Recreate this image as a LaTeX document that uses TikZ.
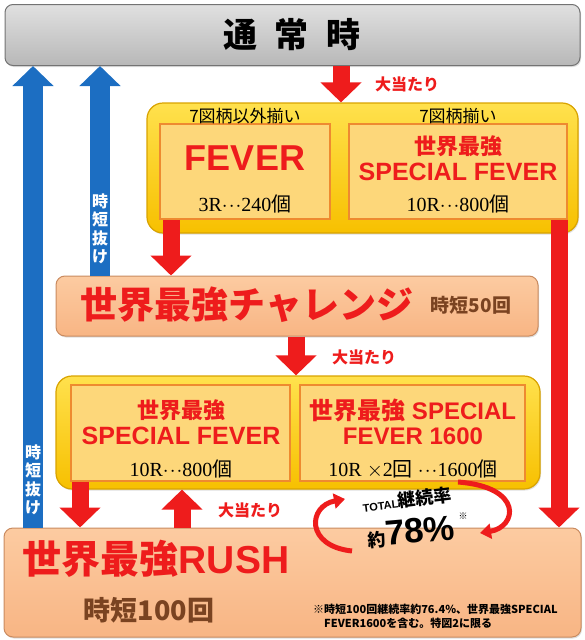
\documentclass[tikz,border=0pt]{standalone}
\usepackage{fontspec}
\setmainfont{Liberation Serif}
\newfontfamily\jp{Noto Sans CJK JP}
\newfontfamily\arl{Liberation Sans}
\usetikzlibrary{arrows.meta,shadows}
\definecolor{rd}{HTML}{EE1C1C}
\definecolor{bl}{HTML}{1C6EC2}
\definecolor{brn}{HTML}{7A4321}
\definecolor{ybd}{HTML}{D9A300}
\definecolor{ytop}{HTML}{FFE14D}
\definecolor{ybot}{HTML}{F7C000}
\definecolor{ibd}{HTML}{EE8A30}
\definecolor{ifill}{HTML}{FDD77A}
\definecolor{sbd}{HTML}{C98B60}
\definecolor{stop}{HTML}{FCCBA1}
\definecolor{sbot}{HTML}{F8B584}
\newcommand\latn[1]{{\arl\bfseries #1}}
\newcommand\fs[1]{\fontsize{#1}{#1}\selectfont}
\tikzset{
  shad/.style={drop shadow={opacity=0.25,shadow xshift=1pt,shadow yshift=-1.5pt}},
  graybox/.style={draw=black!55,line width=1pt,top color=black!12,bottom color=black!28,rounded corners=8pt,inner sep=0pt,shad},
  ybox/.style={draw=ybd,line width=1.2pt,top color=ytop,bottom color=ybot,rounded corners=16pt,inner sep=0pt,shad},
  ibox/.style={draw=ibd,line width=1.5pt,fill=ifill,inner sep=0pt},
  sbox/.style={draw=sbd,line width=1pt,top color=stop,bottom color=sbot,rounded corners=9pt,inner sep=0pt,shad},
  redarr/.style={draw=rd,line width=17pt,-{Triangle[width=40pt,length=20pt]}},
  bluearr/.style={draw=bl,line width=20pt,-{Triangle[width=40pt,length=20pt]}},
  curv/.style={draw=rd,line width=5pt,-{Triangle[width=15pt,length=11pt]}},
  lbl/.style={inner sep=0pt,text=rd,font=\jp\bfseries\fs{16}},
  ser/.style={inner sep=0pt,font=\fs{20}},
  redt/.style={inner sep=0pt,text=rd,align=center},
  vt/.style={inner sep=0pt,text=white,align=center,font=\jp\bfseries\fontsize{16}{18.5}\selectfont},
}
\begin{document}
\begin{tikzpicture}[x=1pt,y=-1pt]
\useasboundingbox (0,0) rectangle (584,640);
% boxes
\node[graybox,minimum width=575pt,minimum height=61pt] (top) at (292.5,35) {};
\node[ybox,minimum width=431pt,minimum height=130pt] (y1) at (362.5,168) {};
\node[ibox,minimum width=170pt,minimum height=95pt] (y1L) at (245,171.5) {};
\node[ibox,minimum width=218pt,minimum height=95pt] (y1R) at (458,171.5) {};
\node[sbox,minimum width=482pt,minimum height=60pt] (ch) at (297,306) {};
\node[ybox,minimum width=484pt,minimum height=113pt] (y2) at (298,432.5) {};
\node[ibox,minimum width=219pt,minimum height=96pt] (y2L) at (180.5,433) {};
\node[ibox,minimum width=225pt,minimum height=96pt] (y2R) at (412.5,433) {};
\node[sbox,minimum width=577pt,minimum height=109pt] (rush) at (292.5,582.5) {};
% arrows
\draw[redarr] (341,0 |- top.south) -- (341,0 |- y1.north);
\draw[redarr] (171,0 |- y1L.south) -- (171,0 |- ch.north);
\draw[redarr] (559,0 |- y1R.south) -- (559,0 |- rush.north);
\draw[redarr] (296,0 |- ch.south) -- (296,0 |- y2.north);
\draw[redarr] (80,0 |- y2L.south) -- (80,0 |- rush.north);
\draw[redarr] (182,0 |- rush.north) -- (182,0 |- y2.south);
\draw[bluearr] (33,0 |- rush.north) -- (33,0 |- top.south);
\draw[bluearr] (100,0 |- ch.north) -- (100,0 |- top.south);
\draw[curv] (352,551) .. controls (305,546) and (308,506) .. (345,499);
\draw[curv] (458,482) .. controls (524,487) and (517,527) .. (480,533);
% texts
\node[inner sep=0pt,font=\jp\bfseries\fs{34}] (ttop) at (292,35) {通\hspace{18pt}常\hspace{18pt}時};
\node[lbl] (l1) at (407,84) {大当たり};
\node[lbl] (l2) at (364,357) {大当たり};
\node[lbl] (l3) at (250,510) {大当たり};
\node[inner sep=0pt,font=\jp\fs{17}] (c1) at (245,116) {7図柄以外揃い};
\node[inner sep=0pt,font=\jp\fs{17}] (c2) at (458,116) {7図柄揃い};
\node[redt,font=\arl\bfseries\fs{36}] (f1) at (245,158) {FEVER};
\node[ser] (f1b) at (245,204) {3R$\cdot\!\cdot\!\cdot$240{\jp 個}};
\node[redt,font=\jp\bfseries\fs{22}] (f2a) at (458,146) {世界最強};
\node[redt,font=\arl\bfseries\fs{25}] (f2b) at (458,172) {SPECIAL FEVER};
\node[ser] (f2c) at (458,204) {10R$\cdot\!\cdot\!\cdot$800{\jp 個}};
\node[redt,font=\jp\bfseries\fs{37}] (cht) at (247,305) {世界最強チャレンジ};
\node[inner sep=0pt,text=brn,font=\jp\bfseries\fs{19}] (chs) at (471,305) {時短50回};
\node[redt,font=\jp\bfseries\fs{22}] (g1a) at (181,410) {世界最強};
\node[redt,font=\arl\bfseries\fs{25}] (g1b) at (181,436) {SPECIAL FEVER};
\node[ser] (g1c) at (181,469) {10R$\cdot\!\cdot\!\cdot$800{\jp 個}};
\node[redt,font=\fs{24}] (g2a) at (413,410) {{\jp\bfseries 世界最強} \latn{SPECIAL}};
\node[redt,font=\arl\bfseries\fs{24}] (g2b) at (413,436) {FEVER 1600};
\node[ser] (g2c) at (413,469) {10R $\times$2{\jp 回} $\cdot\!\cdot\!\cdot$1600{\jp 個}};
\node[redt,font=\fs{39}] (rt) at (156,559) {{\jp\bfseries 世界最強}\latn{RUSH}};
\node[inner sep=0pt,text=brn,font=\jp\bfseries\fs{27}] (rs) at (149,610) {時短100回};
\node[inner sep=0pt,anchor=west,font=\jp\bfseries\fs{11}] (n1) at (313,609) {※時短100回継続率約76.4\%、世界最強SPECIAL};
\node[inner sep=0pt,anchor=west,font=\jp\bfseries\fs{11}] (n2) at (324,623) {FEVER1600を含む。特図2に限る};
\node[inner sep=0pt,rotate=7] (tot) at (407,500) {\latn{\fs{11}TOTAL}{\jp\bfseries\fs{18}継続率}};
\node[inner sep=0pt,rotate=5] (pct) at (411,532) {{\jp\bfseries\fs{18}約}\latn{\fs{35}78\%}};
\node[inner sep=0pt,font=\jp\fs{9}] (ast) at (463,516) {※};
\node[vt] (v1) at (100,229) {時\\短\\抜\\け};
\node[vt] (v2) at (33,480) {時\\短\\抜\\け};
\end{tikzpicture}
\end{document}
